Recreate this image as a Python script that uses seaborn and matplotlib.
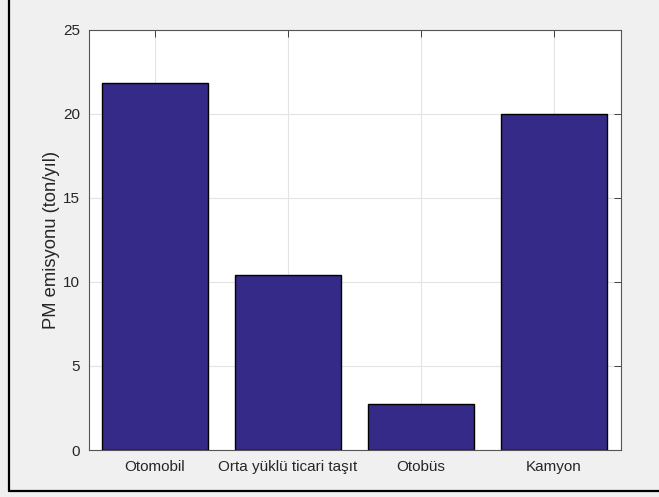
import matplotlib
matplotlib.use("Agg")
import matplotlib.pyplot as plt
from matplotlib.lines import Line2D
import seaborn as sns
import pandas as pd

# PM emissions by vehicle class
categories = ["Otomobil", "Orta yüklü ticari taşıt", "Otobüs", "Kamyon"]
pm_emission = [21.84, 10.4, 2.74, 20.0]
y_ticks = [0, 5, 10, 15, 20, 25]

df = pd.DataFrame({"category": categories, "pm": pm_emission})

sns.set_theme(style="white")
plt.rcParams["font.family"] = ["Liberation Sans", "DejaVu Sans"]

fig = plt.figure(figsize=(6.59, 4.97), dpi=100, facecolor="#f0f0f0")
ax = fig.add_axes([88.5 / 659, 47 / 497, 532 / 659, 420.5 / 497])
ax.set_facecolor("white")

sns.barplot(data=df, x="category", y="pm", order=categories, color="#352a87",
            saturation=1, width=0.8, edgecolor="black", linewidth=1.0,
            ax=ax, zorder=3)

ax.set_xlim(-0.5, 3.5)
ax.set_ylim(0, 25)
ax.set_yticks(y_ticks)
ax.set_xlabel("")
ax.set_ylabel("PM emisyonu (ton/yıl)", fontsize=13.2, color="#262626", labelpad=2)

ax.grid(True, color="#e3e3e3", linewidth=0.8, zorder=0)
ax.set_axisbelow(True)
ax.tick_params(direction="in", top=True, right=True, length=5, width=0.6,
               colors="#262626", labelsize=11, pad=7)
ax.tick_params(axis="y", pad=6)
for s in ax.spines.values():
    s.set_color("#555555")
    s.set_linewidth(0.8)

# outer window frame (left and bottom edges)
fig.add_artist(Line2D([8.5 / 659, 8.5 / 659], [6 / 497, 1.0], transform=fig.transFigure,
                      color="black", linewidth=1.6))
fig.add_artist(Line2D([8.5 / 659, 1.0], [6 / 497, 6 / 497], transform=fig.transFigure,
                      color="black", linewidth=1.6))

fig.savefig("out.png", dpi=100, facecolor=fig.get_facecolor())
